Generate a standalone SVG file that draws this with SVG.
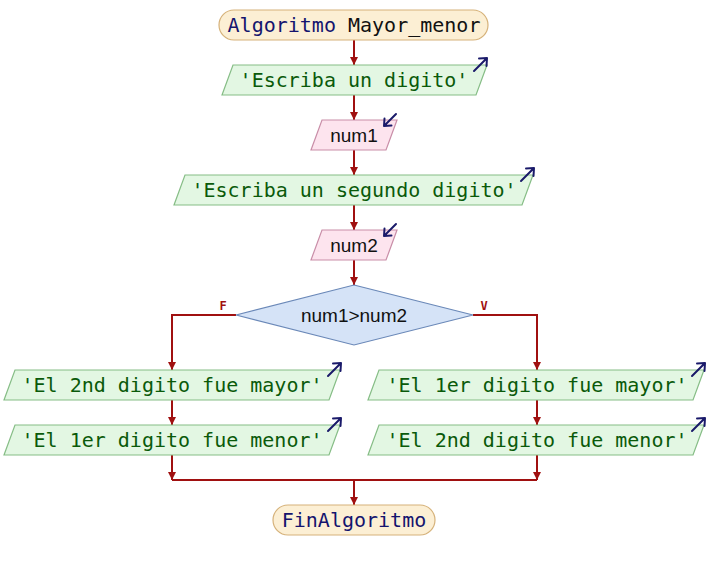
<svg xmlns="http://www.w3.org/2000/svg" width="708" height="570" viewBox="0 0 708 570">
<defs>
<marker id="ah" viewBox="0 0 10 10" refX="10" refY="5" markerWidth="9" markerHeight="8" markerUnits="userSpaceOnUse" orient="auto"><path d="M0,0 L10,5 L0,10 z" fill="#a01010"/></marker>
<path id="oicon" d="M0,13 L13,0 M5,0.5 L13,0 L12.5,8"/>
<path id="iicon" d="M12,0 L0,12 M0.5,4.5 L0,12 L7.5,11.5"/>
</defs>
<style>
.term{fill:#fcefd4;stroke:#d6b27a;stroke-width:1.2}
.out{fill:#e3f7e3;stroke:#86bd86;stroke-width:1.2}
.inp{fill:#fde4ee;stroke:#c98ea8;stroke-width:1.2}
.dec{fill:#d5e3f7;stroke:#6a88b8;stroke-width:1.2}
.mono{font-family:"DejaVu Sans Mono","Liberation Mono",monospace;font-size:20px;text-anchor:middle}
.gt{fill:#0a5a0a}
.sans{font-family:"Liberation Sans",Arial,sans-serif;font-size:19px;text-anchor:middle;fill:#111}
.ic{stroke:#1a1a6a;stroke-width:2;fill:none;stroke-linecap:round;stroke-linejoin:round}
.c{stroke:#a01010;stroke-width:2;fill:none}
.ca{stroke:#a01010;stroke-width:2;fill:none;marker-end:url(#ah)}
.lab{font-family:"DejaVu Sans Mono","Liberation Mono",monospace;font-size:12px;font-weight:bold;fill:#a01010;text-anchor:middle}
</style>
<g id="connectors">
<line class="ca" x1="354" y1="40" x2="354" y2="65"/>
<line class="ca" x1="354" y1="95" x2="354" y2="120"/>
<line class="ca" x1="354" y1="150" x2="354" y2="175"/>
<line class="ca" x1="354" y1="205" x2="354" y2="230"/>
<line class="ca" x1="354" y1="260" x2="354" y2="285"/>
<polyline class="ca" points="236,315 172,315 172,370"/>
<polyline class="ca" points="473,315 537,315 537,370"/>
<line class="ca" x1="172" y1="400" x2="172" y2="425"/>
<line class="ca" x1="537" y1="400" x2="537" y2="425"/>
<line class="ca" x1="172" y1="455" x2="172" y2="480"/>
<line class="ca" x1="537" y1="455" x2="537" y2="480"/>
<line class="c" x1="172" y1="480" x2="537" y2="480"/>
<line class="ca" x1="354" y1="480" x2="354" y2="505"/>
<text class="lab" x="223" y="310">F</text>
<text class="lab" x="484" y="310">V</text>
</g>
<g id="start">
<rect class="term" x="219" y="10" width="269" height="30" rx="15"/>
<text class="mono" x="354" y="32"><tspan fill="#14146e">Algoritmo</tspan><tspan fill="#111"> Mayor_menor</tspan></text>
</g>
<g id="out1">
<polygon class="out" points="233,65 487,65 476,95 222,95"/>
<text class="mono gt" x="354" y="87">'Escriba un digito'</text>
<use href="#oicon" class="ic" x="474" y="58"/>
</g>
<g id="in1">
<polygon class="inp" points="322,120 397,120 386,150 311,150"/>
<text class="sans" x="354" y="142">num1</text>
<use href="#iicon" class="ic" x="384" y="114"/>
</g>
<g id="out2">
<polygon class="out" points="185,175 533,175 522,205 174,205"/>
<text class="mono gt" x="354" y="197">'Escriba un segundo digito'</text>
<use href="#oicon" class="ic" x="521" y="168"/>
</g>
<g id="in2">
<polygon class="inp" points="322,230 397,230 386,260 311,260"/>
<text class="sans" x="354" y="252">num2</text>
<use href="#iicon" class="ic" x="384" y="224"/>
</g>
<g id="cond">
<polygon class="dec" points="354,285 473,315 354,345 236,315"/>
<text class="sans" x="354" y="322">num1&gt;num2</text>
</g>
<g id="outL1">
<polygon class="out" points="15,370 340,370 329,400 4,400"/>
<text class="mono gt" x="172" y="392">'El 2nd digito fue mayor'</text>
<use href="#oicon" class="ic" x="328" y="363"/>
</g>
<g id="outL2">
<polygon class="out" points="15,425 340,425 329,455 4,455"/>
<text class="mono gt" x="172" y="447">'El 1er digito fue menor'</text>
<use href="#oicon" class="ic" x="328" y="418"/>
</g>
<g id="outR1">
<polygon class="out" points="379,370 704,370 693,400 368,400"/>
<text class="mono gt" x="537" y="392">'El 1er digito fue mayor'</text>
<use href="#oicon" class="ic" x="692" y="363"/>
</g>
<g id="outR2">
<polygon class="out" points="379,425 704,425 693,455 368,455"/>
<text class="mono gt" x="537" y="447">'El 2nd digito fue menor'</text>
<use href="#oicon" class="ic" x="692" y="418"/>
</g>
<g id="end">
<rect class="term" x="273" y="505" width="162" height="30" rx="15"/>
<text class="mono" x="354" y="527" fill="#14146e">FinAlgoritmo</text>
</g>
</svg>
